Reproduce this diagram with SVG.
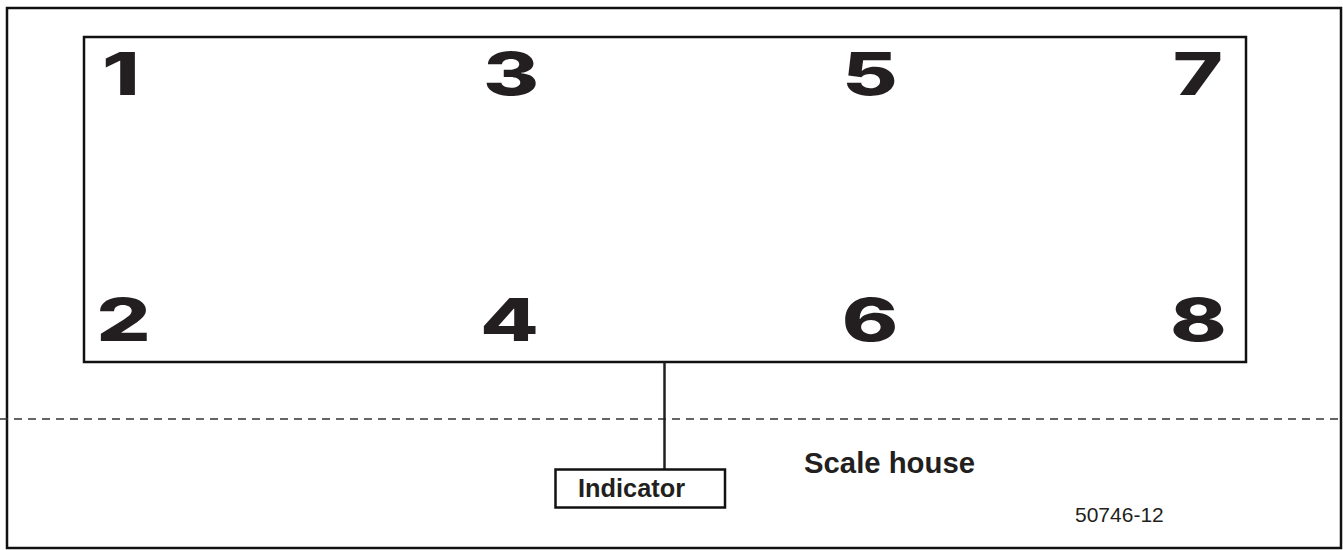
<svg xmlns="http://www.w3.org/2000/svg" width="1343" height="550" viewBox="0 0 1343 550">
<style>
.frame{fill:none;stroke:#111;stroke-width:2.5}
.num{font-family:Inter,"Liberation Sans",Arial,sans-serif;font-weight:800;font-size:59px;fill:#231f20;text-anchor:middle}
.lbl{font-family:"Liberation Sans",Arial,sans-serif;font-weight:bold;fill:#231f20}
.conn{stroke:#231f20;stroke-width:2.5;fill:none}
</style>
<rect width="1343" height="550" fill="#fff"/>
<g id="border"><rect class="frame" x="7" y="8" width="1334" height="540"/></g>
<g id="scale">
<rect class="frame" x="84" y="37" width="1162" height="325"/>
<g transform="translate(121,95) scale(1.45,1)"><text class="num" x="0" y="0">1</text></g>
<g transform="translate(511,95) scale(1.45,1)"><text class="num" x="0" y="0">3</text></g>
<g transform="translate(870,95) scale(1.45,1)"><text class="num" x="0" y="0">5</text></g>
<g transform="translate(1198,95) scale(1.45,1)"><text class="num" x="0" y="0">7</text></g>
<g transform="translate(123.5,341) scale(1.45,1)"><text class="num" x="0" y="0">2</text></g>
<g transform="translate(509.5,341) scale(1.45,1)"><text class="num" x="0" y="0">4</text></g>
<g transform="translate(870,341) scale(1.45,1)"><text class="num" x="0" y="0">6</text></g>
<g transform="translate(1198.5,341) scale(1.45,1)"><text class="num" x="0" y="0">8</text></g>
</g>
<g id="connectors">
<line x1="0" y1="419" x2="1341" y2="419" stroke="#333" stroke-width="1.3" stroke-dasharray="8,6"/>
<line class="conn" x1="664.5" y1="362" x2="664.5" y2="469"/>
</g>
<g id="indicator">
<rect class="frame" x="555.5" y="469.5" width="169.5" height="38"/>
<text class="lbl" x="578" y="497" font-size="26" textLength="107" lengthAdjust="spacingAndGlyphs">Indicator</text>
</g>
<g id="scalehouse">
<text class="lbl" x="804" y="473" font-size="29" textLength="171" lengthAdjust="spacingAndGlyphs">Scale house</text>
</g>
<text x="1075" y="522" font-family="Liberation Sans,Arial,sans-serif" font-size="21" fill="#231f20">50746-12</text>
</svg>
